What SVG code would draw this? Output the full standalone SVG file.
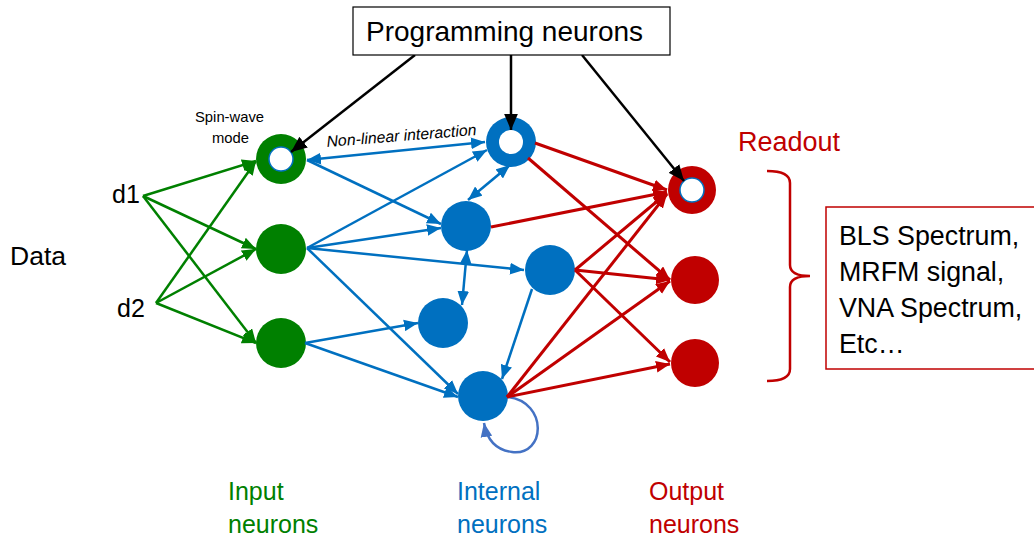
<svg xmlns="http://www.w3.org/2000/svg" width="1034" height="540" viewBox="0 0 1034 540">
<style>
text{font-family:"Liberation Sans",Arial,sans-serif;}
.g{stroke:#008000;stroke-width:2.5;fill:none;marker-end:url(#ag);}
.b{stroke:#0070C0;stroke-width:2.5;fill:none;marker-end:url(#ab);}
.bb{stroke:#0070C0;stroke-width:2.5;fill:none;marker-start:url(#ab);marker-end:url(#ab);}
.r{stroke:#C00000;stroke-width:3;fill:none;marker-end:url(#ar);}
.k{stroke:#000;stroke-width:2.5;fill:none;marker-end:url(#ak);}
.gn{fill:#008000;}
.bn{fill:#0070C0;}
.rn{fill:#C00000;}
.hole{fill:#fff;stroke:#0070C0;stroke-width:1.5;}
</style>
<defs>
<marker id="ag" markerUnits="userSpaceOnUse" markerWidth="14" markerHeight="12" refX="12" refY="5" orient="auto-start-reverse" viewBox="0 0 12 10"><path d="M0,0 L12,5 L0,10 z" fill="#008000"/></marker>
<marker id="ab" markerUnits="userSpaceOnUse" markerWidth="14" markerHeight="12" refX="12" refY="5" orient="auto-start-reverse" viewBox="0 0 12 10"><path d="M0,0 L12,5 L0,10 z" fill="#0070C0"/></marker>
<marker id="abl" markerUnits="userSpaceOnUse" markerWidth="14" markerHeight="12" refX="12" refY="5" orient="auto-start-reverse" viewBox="0 0 12 10"><path d="M0,0 L12,5 L0,10 z" fill="#4472C4"/></marker>
<marker id="ar" markerUnits="userSpaceOnUse" markerWidth="14" markerHeight="12" refX="12" refY="5" orient="auto-start-reverse" viewBox="0 0 12 10"><path d="M0,0 L12,5 L0,10 z" fill="#C00000"/></marker>
<marker id="ak" markerUnits="userSpaceOnUse" markerWidth="16" markerHeight="14" refX="14" refY="6" orient="auto" viewBox="0 0 14 12"><path d="M0,0 L14,6 L0,12 z" fill="#000"/></marker>
</defs>
<rect width="1034" height="540" fill="#fff"/>

<g id="input1"><circle class="gn" cx="281" cy="159" r="25"/><circle class="hole" cx="281" cy="159" r="12"/></g>
<g id="input2"><circle class="gn" cx="281" cy="249" r="25"/></g>
<g id="input3"><circle class="gn" cx="281" cy="343" r="25"/></g>

<g id="internal1"><circle class="bn" cx="511" cy="142" r="25"/><circle cx="511" cy="142" r="12" fill="#fff"/></g>
<g id="internal2"><circle class="bn" cx="466" cy="226" r="25"/></g>
<g id="internal3"><circle class="bn" cx="550" cy="270" r="25"/></g>
<g id="internal4"><circle class="bn" cx="443" cy="323" r="25"/></g>
<g id="internal5"><circle class="bn" cx="483" cy="396" r="25"/></g>

<g id="output1"><circle class="rn" cx="692" cy="190" r="24"/><circle class="hole" cx="692" cy="190" r="12"/></g>
<g id="output2"><circle class="rn" cx="695" cy="280" r="24"/></g>
<g id="output3"><circle class="rn" cx="695" cy="363" r="24"/></g>

<g id="connectors">
  <line class="g" x1="143" y1="196" x2="256" y2="161"/>
  <line class="g" x1="143" y1="196" x2="256" y2="249"/>
  <line class="g" x1="143" y1="196" x2="256" y2="343"/>
  <line class="g" x1="156" y1="303" x2="256" y2="161"/>
  <line class="g" x1="156" y1="303" x2="256" y2="249"/>
  <line class="g" x1="156" y1="303" x2="256" y2="343"/>
  <line class="bb" x1="307" y1="160" x2="485" y2="142"/>
  <line class="b" x1="307" y1="160" x2="441" y2="224"/>
  <line class="b" x1="307" y1="248" x2="487" y2="150"/>
  <line class="b" x1="307" y1="248" x2="441" y2="228"/>
  <line class="b" x1="307" y1="248" x2="524" y2="270"/>
  <line class="b" x1="307" y1="248" x2="458" y2="394"/>
  <line class="b" x1="305" y1="343" x2="418" y2="323"/>
  <line class="b" x1="305" y1="343" x2="458" y2="397"/>
  <line class="bb" x1="468" y1="200" x2="510" y2="165"/>
  <line class="bb" x1="467" y1="250" x2="462" y2="305"/>
  <line class="b" x1="532" y1="289" x2="502" y2="379"/>
  <path d="M508,397 C548,402 546,456 512,452 C496,450 487,440 484,423" stroke="#4472C4" stroke-width="2.5" fill="none" marker-end="url(#abl)"/>
  <line class="r" x1="535" y1="143" x2="667" y2="190"/>
  <line class="r" x1="528" y1="158" x2="670" y2="280"/>
  <line class="r" x1="491" y1="227" x2="667" y2="192"/>
  <line class="r" x1="575" y1="270" x2="667" y2="193"/>
  <line class="r" x1="575" y1="270" x2="670" y2="280"/>
  <line class="r" x1="575" y1="270" x2="670" y2="362"/>
  <line class="r" x1="507" y1="397" x2="667" y2="194"/>
  <line class="r" x1="507" y1="397" x2="670" y2="281"/>
  <line class="r" x1="507" y1="397" x2="670" y2="364"/>
  <line class="k" x1="415" y1="55" x2="291" y2="152"/>
  <line class="k" x1="511" y1="55" x2="511" y2="130"/>
  <line class="k" x1="582" y1="55" x2="684" y2="181"/>
</g>

<g id="programming">
  <rect x="353" y="7" width="317" height="48" fill="#fff" stroke="#000" stroke-width="1.2"/>
  <text x="366" y="41" font-size="28">Programming neurons</text>
</g>

<g id="labels">
  <text x="195" y="122" font-size="14.8">Spin-wave</text>
  <text x="212" y="143" font-size="14.8">mode</text>
  <text x="327" y="147" font-size="15.8" font-style="italic" transform="rotate(-4.6 327 147)">Non-linear interaction</text>
  <text x="10" y="265" font-size="26.5">Data</text>
  <text x="112" y="203" font-size="25">d1</text>
  <text x="117" y="317" font-size="25">d2</text>
  <text x="738" y="151" font-size="27" fill="#C00000">Readout</text>
  <text x="228" y="500" font-size="25" fill="#008000">Input</text>
  <text x="228" y="533" font-size="25" fill="#008000">neurons</text>
  <text x="457" y="500" font-size="25" fill="#0070C0">Internal</text>
  <text x="457" y="533" font-size="25" fill="#0070C0">neurons</text>
  <text x="649" y="500" font-size="25" fill="#C00000">Output</text>
  <text x="649" y="533" font-size="25" fill="#C00000">neurons</text>
</g>

<g id="readout">
  <path d="M767,171 Q790,171 790,183 L790,265 Q790,276 810,276 Q790,276 790,287 L790,369 Q790,381 767,381" fill="none" stroke="#C00000" stroke-width="2.5"/>
  <rect x="826" y="207" width="220" height="162" fill="#fff" stroke="#C00000" stroke-width="1.5"/>
  <text x="839" y="245" font-size="26.8">BLS Spectrum,</text>
  <text x="839" y="281" font-size="26.8">MRFM signal,</text>
  <text x="839" y="317" font-size="26.8">VNA Spectrum,</text>
  <text x="839" y="353" font-size="26.8">Etc…</text>
</g>
</svg>
